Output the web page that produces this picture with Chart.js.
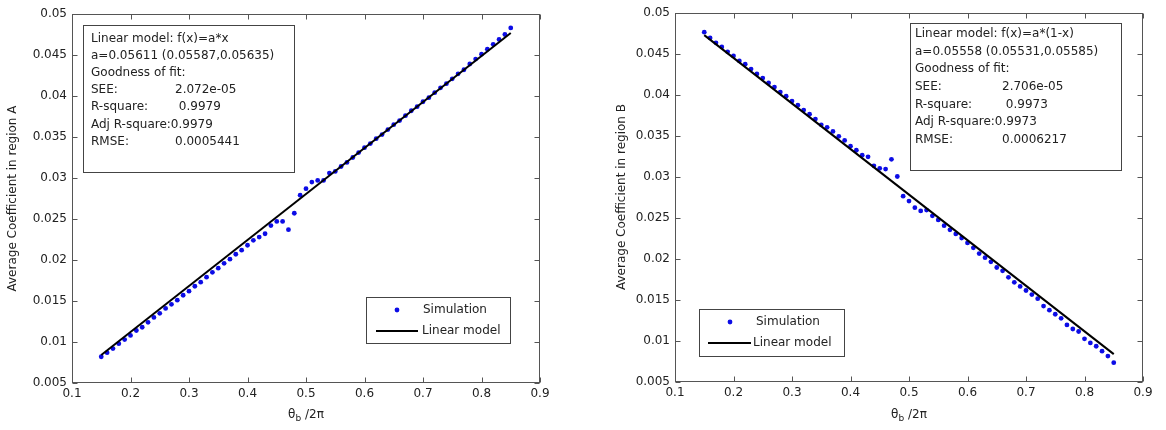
<!DOCTYPE html>
<html>
<head>
<meta charset="utf-8">
<script src="https://cdn.jsdelivr.net/npm/chart.js@4/dist/chart.umd.min.js"></script>
<style>
  html, body { margin: 0; padding: 0; background: #fff; }
  body { width: 1166px; height: 430px; position: relative; overflow: hidden; }
  canvas { position: absolute; top: 0; }
  #chartA { left: 0; }
  #chartB { left: 583px; }
</style>
</head>
<body>
<canvas id="chartA" width="583" height="430"></canvas>
<canvas id="chartB" width="583" height="430"></canvas>
<script>
// ── Data ─────────────────────────────────────────────────────────
const xs = [
  0.15, 0.16, 0.17, 0.18, 0.19, 0.20, 0.21, 0.22, 0.23, 0.24,
  0.25, 0.26, 0.27, 0.28, 0.29, 0.30, 0.31, 0.32, 0.33, 0.34,
  0.35, 0.36, 0.37, 0.38, 0.39, 0.40, 0.41, 0.42, 0.43, 0.44,
  0.45, 0.46, 0.47, 0.48, 0.49, 0.50, 0.51, 0.52, 0.53, 0.54,
  0.55, 0.56, 0.57, 0.58, 0.59, 0.60, 0.61, 0.62, 0.63, 0.64,
  0.65, 0.66, 0.67, 0.68, 0.69, 0.70, 0.71, 0.72, 0.73, 0.74,
  0.75, 0.76, 0.77, 0.78, 0.79, 0.80, 0.81, 0.82, 0.83, 0.84,
  0.85
];

const simA = [
  0.0082, 0.0087, 0.0092, 0.0098, 0.0103, 0.0108, 0.0114, 0.0118, 0.0124, 0.0130,
  0.0135, 0.0141, 0.0146, 0.0151, 0.0157, 0.0162, 0.0168, 0.0173, 0.0179, 0.0185,
  0.0190, 0.0196, 0.0201, 0.0207, 0.0212, 0.0218, 0.0224, 0.0228, 0.0232, 0.0242,
  0.0247, 0.0247, 0.0237, 0.0257, 0.0279, 0.0287, 0.0295, 0.0297, 0.0297, 0.0306,
  0.0308, 0.0314, 0.0319, 0.0325, 0.0331, 0.0337, 0.0342, 0.0348, 0.0353, 0.0359,
  0.0365, 0.0370, 0.0376, 0.0382, 0.0387, 0.0393, 0.0398, 0.0404, 0.0410, 0.0415,
  0.0421, 0.0427, 0.0432, 0.0439, 0.0445, 0.0451, 0.0457, 0.0463, 0.0469, 0.0475,
  0.0483
];

const simB = [
  0.0476, 0.0469, 0.0463, 0.0458, 0.0452, 0.0447, 0.0441, 0.0437, 0.0431, 0.0425,
  0.0420, 0.0414, 0.0409, 0.0403, 0.0398, 0.0392, 0.0387, 0.0381, 0.0376, 0.0370,
  0.0363, 0.0360, 0.0355, 0.0349, 0.0344, 0.0337, 0.0332, 0.0326, 0.0324, 0.0313,
  0.0310, 0.0309, 0.0321, 0.0300, 0.0276, 0.0270, 0.0262, 0.0258, 0.0259, 0.0252,
  0.0247, 0.0240, 0.0235, 0.0230, 0.0225, 0.0219, 0.0213, 0.0206, 0.0201, 0.0196,
  0.0189, 0.0185, 0.0177, 0.0171, 0.0166, 0.0161, 0.0156, 0.0151, 0.0142, 0.0137,
  0.0132, 0.0127, 0.0119, 0.0114, 0.0111, 0.0102, 0.0097, 0.0093, 0.0087, 0.0081,
  0.0073
];

// fitted lines, two ends each
const fitX = [0.15, 0.85];
const fitA = [0.00842, 0.04769];
const fitB = [0.04724, 0.00834];

const xTicks = [0.1, 0.2, 0.3, 0.4, 0.5, 0.6, 0.7, 0.8, 0.9];
const xTickLabels = ['0.1', '0.2', '0.3', '0.4', '0.5', '0.6', '0.7', '0.8', '0.9'];
const yTicks = [0.005, 0.01, 0.015, 0.02, 0.025, 0.03, 0.035, 0.04, 0.045, 0.05];
const yTickLabels = ['0.005', '0.01', '0.015', '0.02', '0.025', '0.03', '0.035', '0.04', '0.045', '0.05'];

const boxTextA = [
  'Linear model: f(x)=a*x',
  'a=0.05611 (0.05587,0.05635)',
  'Goodness of fit:',
  ['SEE:', '2.072e-05'],
  ['R-square:', ' 0.9979'],
  'Adj R-square:0.9979',
  ['RMSE:', '0.0005441']
];
const boxTextB = [
  'Linear model: f(x)=a*(1-x)',
  'a=0.05558 (0.05531,0.05585)',
  'Goodness of fit:',
  ['SEE:', '2.706e-05'],
  ['R-square:', ' 0.9973'],
  'Adj R-square:0.9973',
  ['RMSE:', '0.0006217']
];

const legendLabels = ['Simulation', 'Linear model'];


// ── Style ────────────────────────────────────────────────────────
const FONT = "'DejaVu Sans', sans-serif";
const TEXT = '#222';
const AXIS = '#555';
const DOT = '#0c0ce6';


// ── Frame, ticks, text box, legend ───────────────────────────────
const decor = {
  id: 'decor',
  afterDraw(chart, args, o) {
    const { ctx, chartArea: a, scales: { x, y } } = chart;
    const L = Math.round(a.left) + 0.5, R = Math.round(a.right) - 0.5;
    const T = Math.round(a.top) + 0.5, B = Math.round(a.bottom) - 0.5;

    ctx.save();
    ctx.strokeStyle = AXIS;
    ctx.lineWidth = 1;
    ctx.strokeRect(L, T, R - L, B - T);

    // inward ticks on all four sides
    ctx.beginPath();
    xTicks.forEach(v => {
      const p = Math.round(x.getPixelForValue(v)) + 0.5;
      ctx.moveTo(p, B); ctx.lineTo(p, B - 5);
      ctx.moveTo(p, T); ctx.lineTo(p, T + 5);
    });
    yTicks.forEach(v => {
      const p = Math.round(y.getPixelForValue(v)) + 0.5;
      ctx.moveTo(L, p); ctx.lineTo(L + 5, p);
      ctx.moveTo(R, p); ctx.lineTo(R - 5, p);
    });
    ctx.stroke();

    // x title: theta_b /2pi
    ctx.fillStyle = TEXT;
    ctx.textBaseline = 'middle';
    ctx.font = '12px ' + FONT;
    const cx = (a.left + a.right) / 2;
    const ty = 415;
    const w1 = ctx.measureText('θ').width;
    ctx.font = '9px ' + FONT;
    const w2 = ctx.measureText('b').width;
    ctx.font = '12px ' + FONT;
    const w3 = ctx.measureText(' /2π').width;
    let tx = cx - (w1 + w2 + w3) / 2;
    ctx.textAlign = 'left';
    ctx.fillText('θ', tx, ty);
    ctx.font = '9px ' + FONT;
    ctx.fillText('b', tx + w1, ty + 4);
    ctx.font = '12px ' + FONT;
    ctx.fillText(' /2π', tx + w1 + w2, ty);

    // fit statistics box
    const b = o.box;
    ctx.fillStyle = '#fff';
    ctx.fillRect(b.x, b.y, b.w, b.h);
    ctx.strokeStyle = '#444';
    ctx.strokeRect(b.x + 0.5, b.y + 0.5, b.w, b.h);
    ctx.fillStyle = TEXT;
    ctx.font = '12px ' + FONT;
    o.lines.forEach((line, i) => {
      const ly = b.firstLine + i * b.step;
      if (Array.isArray(line)) {
        ctx.fillText(line[0], b.tx, ly);
        ctx.fillText(line[1], b.vx, ly);
      } else {
        ctx.fillText(line, b.tx, ly);
      }
    });

    // legend
    const g = o.legend;
    ctx.fillStyle = '#fff';
    ctx.fillRect(g.x, g.y, g.w, g.h);
    ctx.strokeStyle = '#444';
    ctx.strokeRect(g.x + 0.5, g.y + 0.5, g.w, g.h);
    ctx.fillStyle = DOT;
    ctx.beginPath();
    ctx.arc(g.mx, g.y1, 2.4, 0, Math.PI * 2);
    ctx.fill();
    ctx.strokeStyle = '#000';
    ctx.lineWidth = 2;
    ctx.beginPath();
    ctx.moveTo(g.l0, g.y2); ctx.lineTo(g.l1, g.y2);
    ctx.stroke();
    ctx.fillStyle = TEXT;
    ctx.fillText(legendLabels[0], g.t1, g.y1);
    ctx.fillText(legendLabels[1], g.t2, g.y2);

    ctx.restore();
  }
};


// ── Chart builder ────────────────────────────────────────────────
function makeChart(id, sim, fit, yTitle, lay, box, legend, lines) {
  return new Chart(document.getElementById(id), {
    type: 'scatter',
    data: {
      datasets: [
        {
          label: legendLabels[1],
          data: fitX.map((v, i) => ({ x: v, y: fit[i] })),
          showLine: true,
          borderColor: '#000',
          borderWidth: 2,
          pointRadius: 0,
          order: 0
        },
        {
          label: legendLabels[0],
          data: xs.map((v, i) => ({ x: v, y: sim[i] })),
          showLine: false,
          pointRadius: 2.4,
          pointBorderWidth: 0,
          backgroundColor: DOT,
          order: 1
        }
      ]
    },
    options: {
      responsive: false,
      animation: false,
      layout: { padding: lay.padding },
      plugins: {
        legend: { display: false },
        tooltip: { enabled: false },
        decor: { box: { ...box }, legend, lines }
      },
      scales: {
        x: {
          type: 'linear',
          min: 0.1,
          max: 0.9,
          afterBuildTicks: s => { s.ticks = xTicks.map(v => ({ value: v })); },
          afterFit: s => { s.height = lay.xh; },
          ticks: {
            callback: (v, i) => xTickLabels[i],
            font: { family: FONT, size: 12 },
            color: TEXT,
            padding: 4,
            maxRotation: 0
          },
          grid: { display: false, drawTicks: false },
          border: { display: false }
        },
        y: {
          type: 'linear',
          min: 0.005,
          max: 0.05,
          afterBuildTicks: s => { s.ticks = yTicks.map(v => ({ value: v })); },
          afterFit: s => { s.width = lay.yw; },
          ticks: {
            callback: (v, i) => yTickLabels[i],
            font: { family: FONT, size: 12 },
            color: TEXT,
            padding: 5
          },
          title: {
            display: true,
            text: yTitle,
            font: { family: FONT, size: 12 },
            color: TEXT,
            padding: { top: 6, bottom: 0 }
          },
          grid: { display: false, drawTicks: false },
          border: { display: false }
        }
      }
    },
    plugins: [decor]
  });
}

makeChart('chartA', simA, fitA, 'Average Coefficient in region A',
  { padding: { left: 0, top: 14, right: 43, bottom: 0 }, yw: 72, xh: 47 },
  { x: 83, y: 25, w: 211, h: 147, tx: 91, vx: 175, firstLine: 38.5, step: 17.2 },
  { x: 366, y: 297, w: 144, h: 46, mx: 397, y1: 310, t1: 423, l0: 376, l1: 418, y2: 331, t2: 422 },
  boxTextA);

makeChart('chartB', simB, fitB, 'Average Coefficient in region B',
  { padding: { left: 26, top: 12.5, right: 23, bottom: 0 }, yw: 66, xh: 48.5 },
  { x: 327, y: 23, w: 211, h: 147, tx: 332, vx: 419, firstLine: 34, step: 17.6 },
  { x: 116, y: 309, w: 145, h: 47, mx: 147, y1: 322, t1: 173, l0: 125, l1: 168, y2: 343, t2: 170 },
  boxTextB);
</script>
</body>
</html>
